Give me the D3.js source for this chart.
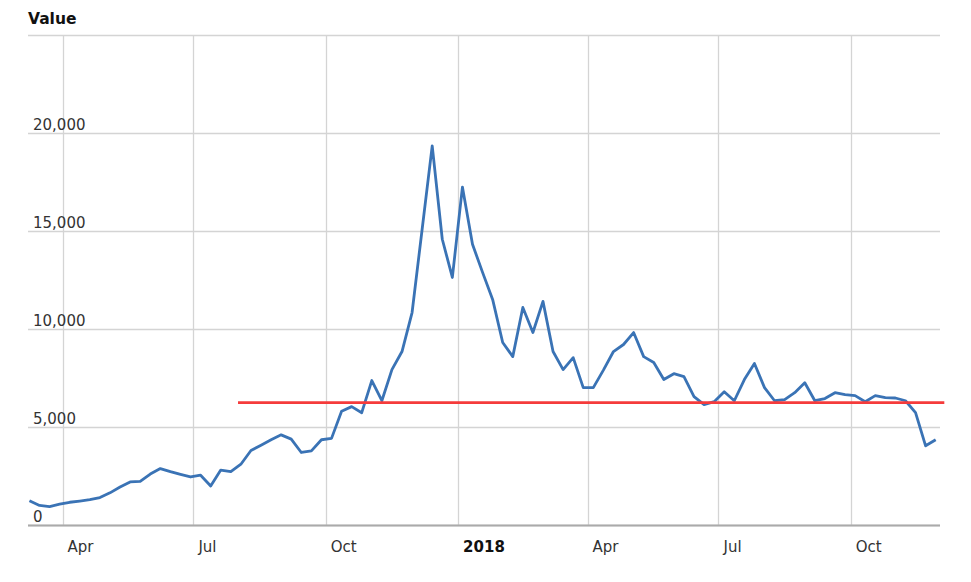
<!DOCTYPE html>
<meta charset="utf-8">
<style>
    body { margin: 0; background: white; }
    text { font-family: "DejaVu Sans", Verdana, sans-serif; fill: #333; }
    .grid line { stroke: #d4d4d4; stroke-width: 1.3px; }
</style>
<body>
<svg id="chart" width="971" height="582"></svg>
<script src="https://d3js.org/d3.v7.min.js"></script>
<script>
    // weekly closes, starting 9 Mar 2017
    const startDate = "2017-03-09";
    const values = [
        1240, 1000, 940, 1060, 1160, 1220, 1290, 1400, 1640, 1940,
        2200, 2230, 2600, 2880, 2720, 2580, 2450, 2540, 1990, 2800,
        2720, 3100, 3800, 4070, 4350, 4600, 4380, 3700, 3780, 4350,
        4420, 5800, 6040, 5730, 7370, 6340, 7930, 8850, 10840, 15090,
        19340, 14580, 12630, 17240, 14320, 12890, 11510, 9310, 8590, 11100,
        9820, 11410, 8850, 7930, 8540, 7010, 7010, 7900, 8850, 9210,
        9820, 8590, 8290, 7420, 7720, 7570, 6550, 6140, 6290, 6800,
        6340, 7420, 8240, 7010, 6340, 6400, 6750, 7260, 6340, 6450,
        6750, 6650, 6600, 6290, 6600, 6500, 6480, 6340, 5730, 4040,
        4350
    ];
    const refLine = { from: "2017-08-01", to: "2018-12-05", value: 6240 };
    const yTicks = [0, 5000, 10000, 15000, 20000, 25000];
    const xTicks = ["2017-04-01", "2017-07-01", "2017-10-01", "2018-01-01",
                    "2018-04-01", "2018-07-01", "2018-10-01"];
    const xTickLabels = ["Apr", "Jul", "Oct", "2018", "Apr", "Jul", "Oct"];

    const parse = d3.utcParse("%Y-%m-%d");
    const t0 = parse(startDate);
    const data = values.map((v, i) => ({ date: d3.utcDay.offset(t0, i * 7), value: v }));

    const svg = d3.select("#chart");
    const plotLeft = 28, plotRight = 940, plotTop = 35, plotBottom = 525;

    const x = d3.scaleUtc()
        .domain([parse("2017-03-08"), parse("2018-12-02")])
        .range([plotLeft, plotRight]);
    const y = d3.scaleLinear()
        .domain([0, 25000])
        .range([plotBottom, plotTop]);

    // horizontal grid
    const gy = svg.append("g").attr("class", "grid");
    gy.selectAll("line").data(yTicks).enter().append("line")
        .attr("x1", plotLeft).attr("x2", plotRight)
        .attr("y1", d => y(d) + 0.5).attr("y2", d => y(d) + 0.5);

    // vertical grid
    const gx = svg.append("g").attr("class", "grid");
    gx.selectAll("line").data(xTicks).enter().append("line")
        .attr("x1", d => Math.round(x(parse(d))) + 0.5)
        .attr("x2", d => Math.round(x(parse(d))) + 0.5)
        .attr("y1", plotTop).attr("y2", plotBottom);

    // y labels sit above their gridline
    svg.append("g").selectAll("text")
        .data(yTicks.filter(d => d < 25000)).enter().append("text")
        .attr("x", plotLeft + 5)
        .attr("y", d => y(d) - 3)
        .style("font-size", "15px")
        .text(d => d3.format(",")(d));

    svg.append("text")
        .attr("x", plotLeft).attr("y", 24)
        .style("font-size", "15.5px")
        .style("font-weight", "bold")
        .style("fill", "#111")
        .text("Value");

    // x axis baseline
    svg.append("line")
        .attr("x1", plotLeft).attr("x2", plotRight)
        .attr("y1", plotBottom + 0.5).attr("y2", plotBottom + 0.5)
        .attr("stroke", "#aaaaaa")
        .attr("stroke-width", 2);

    svg.append("g").selectAll("text")
        .data(xTicks).enter().append("text")
        .attr("x", d => x(parse(d)) + 5)
        .attr("y", 552)
        .style("font-size", "15px")
        .style("font-weight", (d, i) => xTickLabels[i] === "2018" ? "bold" : "normal")
        .style("fill", (d, i) => xTickLabels[i] === "2018" ? "#111" : "#333")
        .text((d, i) => xTickLabels[i]);

    const line = d3.line()
        .x(d => x(d.date))
        .y(d => y(d.value));

    svg.append("path")
        .datum(data)
        .attr("d", line)
        .attr("fill", "none")
        .attr("stroke", "#3a73b5")
        .attr("stroke-width", 2.8)
        .attr("stroke-linejoin", "round");

    svg.append("line")
        .attr("x1", x(parse(refLine.from)))
        .attr("x2", x(parse(refLine.to)))
        .attr("y1", y(refLine.value))
        .attr("y2", y(refLine.value))
        .attr("stroke", "#f53b3b")
        .attr("stroke-width", 2.8);
</script>
</body>
